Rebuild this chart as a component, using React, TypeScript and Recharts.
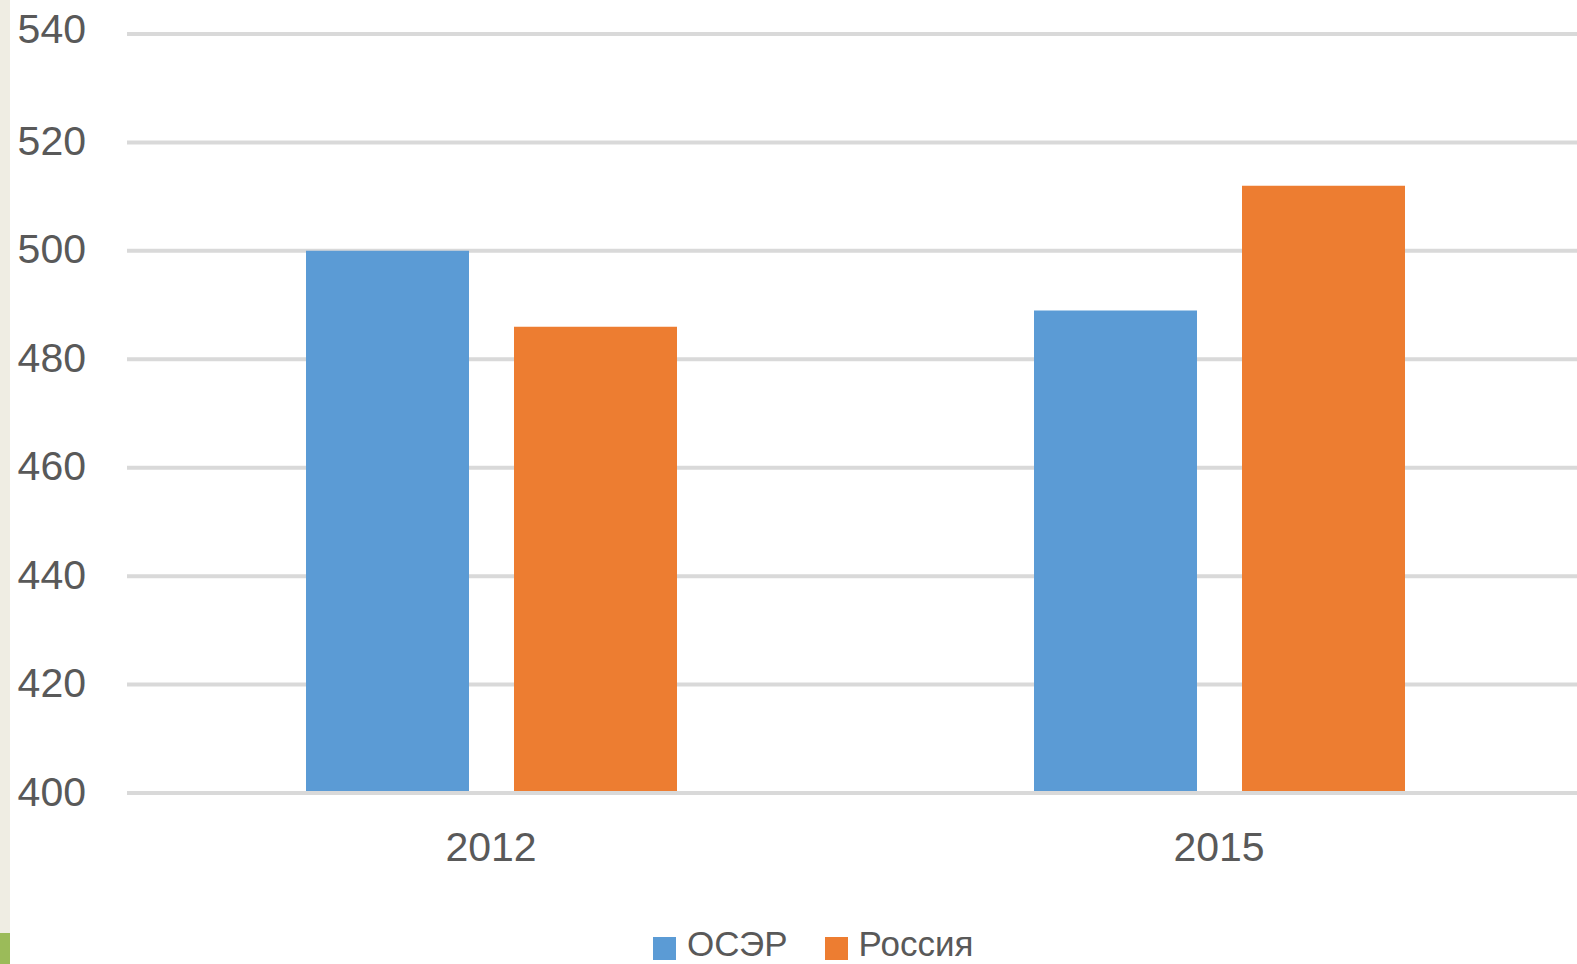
import { BarChart, Bar, XAxis, YAxis, CartesianGrid, Legend } from 'recharts';

const categories = ['2012', '2015'];
const oecdValues = [500, 489];
const russiaValues = [486, 512];
const yTicks = [400, 420, 440, 460, 480, 500, 520, 540];

const BLUE = '#5B9BD5';
const ORANGE = '#ED7D31';
const TEXT = '#595959';
const FONT = '"Liberation Sans", Arial, sans-serif';

const data = categories.map((year, i) => ({
  year,
  oecd: oecdValues[i],
  russia: russiaValues[i],
}));

// top label sits a little higher in the original, keep it inside the frame
function YTick({ x, y, payload }: any) {
  const shift = payload.value === 540 ? -6 : -2;
  return (
    <text x={x} y={y + shift} dy="0.355em" textAnchor="end" fill={TEXT} fontSize={41} fontFamily={FONT}>
      {payload.value}
    </text>
  );
}

// legend drawn by hand so the squares and gaps sit where Excel put them
function LegendContent({ payload }: any) {
  return (
    <div style={{ display: 'flex', alignItems: 'flex-start', fontFamily: FONT, fontSize: 35, lineHeight: '35px', color: TEXT, whiteSpace: 'nowrap' }}>
      {(payload || []).map((item: any, i: number) => (
        <div key={item.value} style={{ display: 'flex', alignItems: 'flex-start', marginLeft: i === 0 ? 0 : 37 }}>
          <span style={{ display: 'inline-block', width: 23, height: 23, marginTop: 11, marginRight: 11, background: item.color }} />
          <span>{item.value}</span>
        </div>
      ))}
    </div>
  );
}

export default function App() {
  return (
    <div style={{ position: 'fixed', left: 0, top: 0, width: 1577, height: 964, overflow: 'hidden', background: '#fff' }}>
      <div style={{ position: 'absolute', left: 0, top: 0, width: 10, height: 964, background: '#EFEDE3' }} />
      <div style={{ position: 'absolute', left: 0, top: 933, width: 10, height: 31, background: '#9BBB59' }} />
      <BarChart
        width={1600}
        height={1000}
        data={data}
        margin={{ top: 34, right: 17, bottom: 147, left: 0 }}
        barCategoryGap={179}
        barGap={45}
      >
        <CartesianGrid horizontal vertical={false} stroke="#D9D9D9" strokeWidth={4} />
        <YAxis
          type="number"
          domain={[400, 540]}
          ticks={yTicks}
          width={127}
          axisLine={false}
          tickLine={false}
          tickMargin={35}
          tick={<YTick />}
          interval={0}
        />
        <Bar dataKey="oecd" name="ОСЭР" fill={BLUE} isAnimationActive={false} />
        <Bar dataKey="russia" name="Россия" fill={ORANGE} isAnimationActive={false} />
        <XAxis
          dataKey="year"
          height={60}
          axisLine={{ stroke: '#D9D9D9', strokeWidth: 4 }}
          tickLine={false}
          tickMargin={33}
          tick={{ fill: TEXT, fontSize: 41, fontFamily: FONT }}
        />
        <Legend
          layout="horizontal"
          verticalAlign="middle"
          align="center"
          content={<LegendContent />}
          wrapperStyle={{ left: 653, top: 926, width: 'auto', height: 'auto' }}
        />
      </BarChart>
    </div>
  );
}
